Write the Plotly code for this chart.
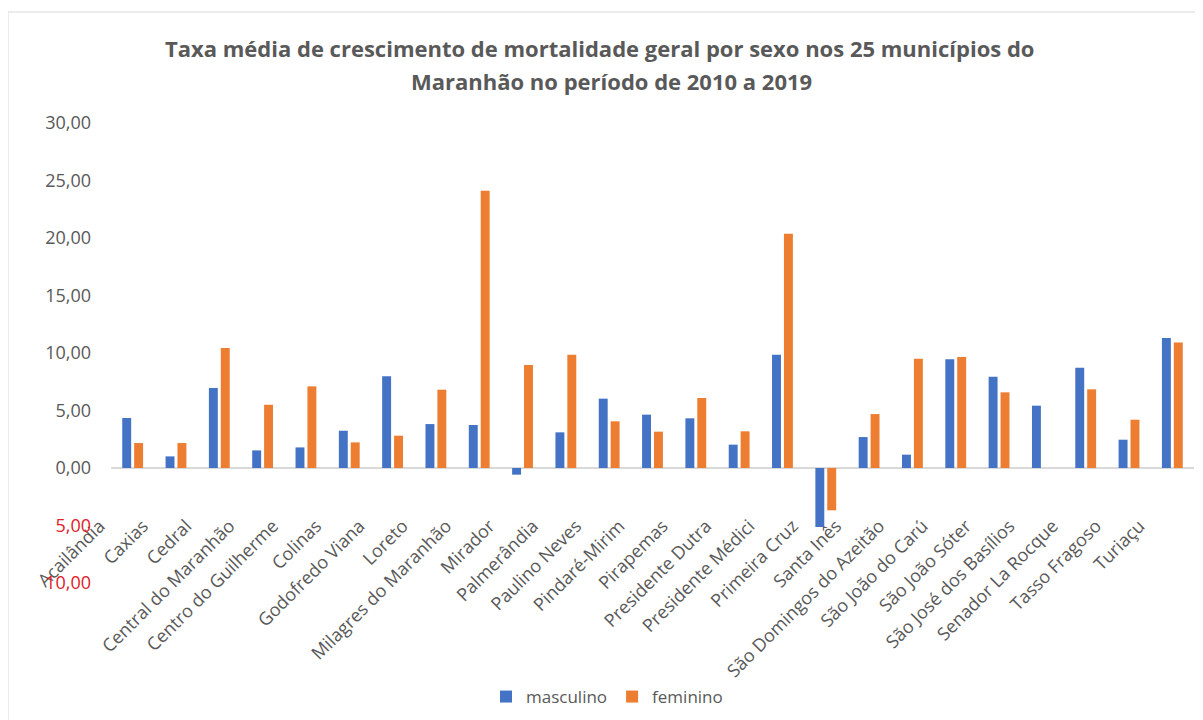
import plotly.graph_objects as go

municipios = [
    "Acailândia", "Caxias", "Cedral", "Central do Maranhão", "Centro do Guilherme",
    "Colinas", "Godofredo Viana", "Loreto", "Milagres do Maranhão", "Mirador",
    "Palmerândia", "Paulino Neves", "Pindaré-Mirim", "Pirapemas", "Presidente Dutra",
    "Presidente Médici", "Primeira Cruz", "Santa Inês", "São Domingos do Azeitão",
    "São João do Carú", "São João Sóter", "São José dos Basílios", "Senador La Rocque",
    "Tasso Fragoso", "Turiaçu",
]
masculino = [4.35, 1.01, 6.96, 1.53, 1.79, 3.24, 7.97, 3.82, 3.74, -0.58,
             3.10, 6.03, 4.64, 4.32, 2.03, 9.85, -5.13, 2.69, 1.16, 9.45,
             7.94, 5.42, 8.72, 2.46, 11.30]
feminino = [2.17, 2.17, 10.43, 5.50, 7.10, 2.23, 2.81, 6.81, 24.11, 8.96,
            9.85, 4.06, 3.16, 6.09, 3.19, 20.37, -3.68, 4.69, 9.50, 9.65,
            6.58, None, 6.84, 4.20, 10.92]
y_ticks = [-10, -5, 0, 5, 10, 15, 20, 25, 30]

title_l1 = "Taxa média de crescimento de mortalidade geral por sexo nos 25 municípios do"
title_l2 = "Maranhão no período de 2010 a 2019"

GREY = "#595959"
RED = "#E0202A"
FONT = "Open Sans"


def fmt(v):
    s = f"{abs(v):.2f}".replace(".", ",")
    if v < 0:
        return f'<span style="color:{RED}">{s}</span>'
    return s


# page body has an 8px margin: build the figure 8px smaller, shift everything
OFF = 8
W, H = 1203 - OFF, 720 - OFF
ML = 111 - OFF
MT = 123 - OFF
MR = W - (1194 - OFF)
MB = H - (583 - OFF)
plot_h = H - MT - MB
plot_w = W - ML - MR


def px(xr):
    return (xr - OFF - ML) / plot_w


def py(yr):
    return (H - MB - (yr - OFF)) / plot_h


fig = go.Figure()
fig.add_trace(go.Bar(name="masculino", x=municipios, y=masculino,
                     marker=dict(color="#4472C4", line=dict(width=0))))
fig.add_trace(go.Bar(name="feminino", x=municipios, y=feminino,
                     marker=dict(color="#ED7D31", line=dict(width=0))))

fig.update_layout(
    width=W, height=H,
    margin=dict(l=ML, r=MR, t=MT, b=MB, autoexpand=False),
    paper_bgcolor="white", plot_bgcolor="white",
    barmode="group", bargap=0.45, bargroupgap=0.25,
    font=dict(family=FONT, color=GREY, size=17),
    showlegend=True,
    legend=dict(orientation="h", x=px(607), xanchor="center",
                y=py(697), yanchor="middle",
                font=dict(family=FONT, size=17, color=GREY),
                traceorder="normal"),
    xaxis=dict(type="category", anchor="free", position=py(511),
               showline=False, showgrid=False, zeroline=False, ticks="",
               tickangle=-45, ticklabelshift=-33,
               tickfont=dict(family=FONT, size=18, color=GREY)),
    yaxis=dict(range=[-10, 30], tickvals=y_ticks,
               ticktext=[fmt(v) for v in y_ticks],
               showgrid=False, showline=False, ticks="",
               zeroline=True, zerolinecolor="#D9D9D9", zerolinewidth=1.5,
               ticklabelstandoff=19,
               tickfont=dict(family=FONT, size=18, color=GREY)),
    annotations=[
        dict(text=f"<b>{title_l1}</b>", xref="paper", yref="paper",
             x=px(599), y=py(48), xanchor="center", yanchor="middle",
             showarrow=False, font=dict(family=FONT, size=22, color=GREY)),
        dict(text=f"<b>{title_l2}</b>", xref="paper", yref="paper",
             x=px(611), y=py(81), xanchor="center", yanchor="middle",
             showarrow=False, font=dict(family=FONT, size=22, color=GREY)),
    ],
    shapes=[dict(type="rect", xref="paper", yref="paper",
                 x0=px(8), x1=px(1240), y0=py(760), y1=py(12),
                 line=dict(color="#D9D9D9", width=1), fillcolor="rgba(0,0,0,0)",
                 layer="below")],
)

fig.write_html("out.html")
